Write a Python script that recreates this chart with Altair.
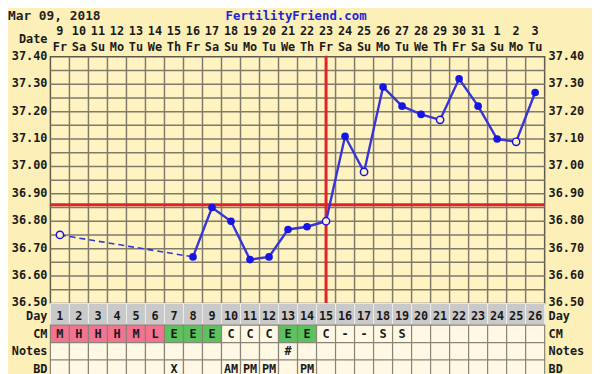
import altair as alt
import pandas as pd

# ---------------- data ----------------
cycle_days = list(range(1, 27))
dates = ["9", "10", "11", "12", "13", "14", "15", "16", "17", "18", "19", "20", "21",
         "22", "23", "24", "25", "26", "27", "28", "29", "30", "31", "1", "2", "3"]
weekdays = ["Fr", "Sa", "Su", "Mo", "Tu", "We", "Th", "Fr", "Sa", "Su", "Mo", "Tu", "We",
            "Th", "Fr", "Sa", "Su", "Mo", "Tu", "We", "Th", "Fr", "Sa", "Su", "Mo", "Tu"]
temps = [36.75, None, None, None, None, None, None, 36.67, 36.85, 36.80, 36.66, 36.67, 36.77,
         36.78, 36.80, 37.11, 36.98, 37.29, 37.22, 37.19, 37.17, 37.32, 37.22, 37.10, 37.09, 37.27]
open_days = [1, 15, 17, 21, 25]
cm = ["M", "H", "H", "H", "M", "L", "E", "E", "E", "C", "C", "C", "E",
      "E", "C", "-", "-", "S", "S", "", "", "", "", "", "", ""]
notes = ["", "", "", "", "", "", "", "", "", "", "", "", "#",
         "", "", "", "", "", "", "", "", "", "", "", "", ""]
bd = ["", "", "", "", "", "", "X", "", "", "AM", "PM", "PM", "",
      "PM", "", "", "", "", "", "", "", "", "", "", "", ""]
coverline = 36.86
ovulation_day = 15
temp_ticks = [37.40, 37.30, 37.20, 37.10, 37.00, 36.90, 36.80, 36.70, 36.60, 36.50]
row_names_top = ["Day"]
row_names_low = ["CM", "Notes", "BD"]
title_left = "Mar 09, 2018"
title_site = "FertilityFriend.com"
date_caption = "Date"

# ---------------- styling ----------------
W, H = 501, 250
OUTER_BG = "#FCEFB8"
PLOT_BG = "#FFF3C2"
GRID = "#7F7A6A"
RED = "#E3222A"
BLUE_LINE = "#3535D8"
BLUE_PT = "#1515E8"
FONT = "DejaVu Sans Mono"

df = pd.DataFrame({"day": cycle_days, "date": dates, "wd": weekdays, "temp": temps})
df["open"] = df["day"].isin(open_days)

rec = df.dropna(subset=["temp"]).copy()
rec["run"] = (rec["day"].diff() != 1).cumsum()
solid = rec[rec.groupby("run")["day"].transform("count") > 1]

gap_rows = []
prev = None
seg = 0
for _, r in rec.iterrows():
    if prev is not None and r["day"] - prev["day"] > 1:
        gap_rows.append({"day": prev["day"], "temp": prev["temp"], "seg": seg})
        gap_rows.append({"day": r["day"], "temp": r["temp"], "seg": seg})
        seg += 1
    prev = r
gaps = pd.DataFrame(gap_rows)

edges = pd.DataFrame({"edge": [d + 0.5 for d in cycle_days[:-1]]})
hgrid = pd.DataFrame({"g": [round(36.5 + 0.05 * i, 2) for i in range(1, 18)]})
ticks = pd.DataFrame({"t": temp_ticks})

kind = []
for c in cm:
    if c in ("M", "H", "L"):
        kind.append("flow")
    elif c == "E":
        kind.append("egg")
    else:
        kind.append("plain")
low = pd.concat([
    pd.DataFrame({"day": cycle_days, "row": "CM", "txt": cm, "kind": kind}),
    pd.DataFrame({"day": cycle_days, "row": "Notes", "txt": notes, "kind": "plain"}),
    pd.DataFrame({"day": cycle_days, "row": "BD", "txt": bd, "kind": "plain"}),
], ignore_index=True)
low["x1"] = low["day"] - 0.5
low["x2"] = low["day"] + 0.5
toprow = pd.DataFrame({"day": cycle_days, "row": "Day", "txt": [str(d) for d in cycle_days]})
toprow["x1"] = toprow["day"] - 0.5
toprow["x2"] = toprow["day"] + 0.5

xs = alt.Scale(domain=[0.5, 26.5], nice=False, zero=False)
ys = alt.Scale(domain=[36.5, 37.4], nice=False, zero=False)
day_scale = alt.Scale(domain=row_names_top, range=[250, 272], paddingInner=0, paddingOuter=0)
low_scale = alt.Scale(domain=row_names_low, range=[272, 325], paddingInner=0, paddingOuter=0)

X = lambda f: alt.X(f, scale=xs, axis=None)
Y = lambda f: alt.Y(f, scale=ys, axis=None)

vgrid = alt.Chart(edges).mark_rule(color=GRID, strokeWidth=1.5).encode(
    x=X("edge:Q"), y=alt.value(0), y2=alt.value(H))
hgr = alt.Chart(hgrid).mark_rule(color=GRID, strokeWidth=1.5).encode(
    y=Y("g:Q"), x=alt.value(0), x2=alt.value(W))
cover = alt.Chart(pd.DataFrame({"c": [coverline]})).mark_rule(color=RED, strokeWidth=3).encode(
    y=Y("c:Q"), x=alt.value(0), x2=alt.value(W))
ovu = alt.Chart(pd.DataFrame({"o": [ovulation_day]})).mark_rule(color=RED, strokeWidth=3).encode(
    x=X("o:Q"), y=alt.value(-1), y2=alt.value(H))

dashed = alt.Chart(gaps).mark_line(color=BLUE_LINE, strokeWidth=1.6, strokeDash=[6, 4]).encode(
    x=X("day:Q"), y=Y("temp:Q"), detail="seg:N")
line = alt.Chart(solid).mark_line(color=BLUE_LINE, strokeWidth=2.4).encode(
    x=X("day:Q"), y=Y("temp:Q"), detail="run:N")
filled_pts = alt.Chart(rec[~rec["open"]]).mark_point(
    shape="circle", filled=True, color=BLUE_PT, size=60, opacity=1).encode(
    x=X("day:Q"), y=Y("temp:Q"))
open_pts = alt.Chart(rec[rec["open"]]).mark_point(
    shape="circle", filled=True, fill=PLOT_BG, stroke=BLUE_PT, strokeWidth=1.5, size=55,
    opacity=1).encode(x=X("day:Q"), y=Y("temp:Q"))

txt_style = dict(font=FONT, fontWeight="bold", fontSize=12, color="#1a1a1a")

date_txt = alt.Chart(df).mark_text(**txt_style).encode(
    x=X("day:Q"), y=alt.value(-26), text="date:N")
wd_txt = alt.Chart(df).mark_text(**txt_style).encode(
    x=X("day:Q"), y=alt.value(-10), text="wd:N")

lt = alt.Chart(ticks).mark_text(align="right", dy=-1, **txt_style).encode(
    x=alt.value(-3), y=Y("t:Q"), text=alt.Text("t:Q", format=".2f"))
rt = alt.Chart(ticks).mark_text(align="left", dy=-1, **txt_style).encode(
    x=alt.value(505), y=Y("t:Q"), text=alt.Text("t:Q", format=".2f"))

day_cells = alt.Chart(toprow).mark_rect(fill="#C9C9C9", stroke="#ECECEC", strokeWidth=1).encode(
    x=X("x1:Q"), x2="x2:Q", y=alt.Y("row:N", scale=day_scale, axis=None))
day_nums = alt.Chart(toprow).mark_text(dy=1.5, **txt_style).encode(
    x=X("day:Q"), y=alt.Y("row:N", scale=day_scale, axis=None), text="txt:N")

low_cells = alt.Chart(low).mark_rect(stroke="#8A8478", strokeWidth=1.2).encode(
    x=X("x1:Q"), x2="x2:Q", y=alt.Y("row:N", scale=low_scale, axis=None),
    color=alt.Color("kind:N", scale=alt.Scale(domain=["flow", "egg", "plain"],
                                              range=["#F27490", "#5CC25E", "#FFF8E4"]),
                    legend=None))
low_txt = alt.Chart(low).mark_text(**txt_style).encode(
    x=X("day:Q"), y=alt.Y("row:N", scale=low_scale, axis=None), text="txt:N")

row_top_df = pd.DataFrame({"row": row_names_top})
row_low_df = pd.DataFrame({"row": row_names_low})
rl_top_l = alt.Chart(row_top_df).mark_text(align="right", dy=1.5, **txt_style).encode(
    x=alt.value(-3), y=alt.Y("row:N", scale=day_scale, axis=None), text="row:N")
rl_top_r = alt.Chart(row_top_df).mark_text(align="left", dy=1.5, **txt_style).encode(
    x=alt.value(505), y=alt.Y("row:N", scale=day_scale, axis=None), text="row:N")
rl_low_l = alt.Chart(row_low_df).mark_text(align="right", **txt_style).encode(
    x=alt.value(-3), y=alt.Y("row:N", scale=low_scale, axis=None), text="row:N")
rl_low_r = alt.Chart(row_low_df).mark_text(align="left", **txt_style).encode(
    x=alt.value(505), y=alt.Y("row:N", scale=low_scale, axis=None), text="row:N")

heads = pd.DataFrame({"a": [title_left], "b": [title_site], "c": [date_caption]})
t_left = alt.Chart(heads).mark_text(font=FONT, fontWeight="bold", fontSize=13, color="#222",
                                    align="left", baseline="top").encode(
    x=alt.value(-43), y=alt.value(-47), text="a:N")
t_site = alt.Chart(heads).mark_text(font=FONT, fontWeight="bold", fontSize=12.5, color="#2424D6",
                                    align="center", baseline="top").encode(
    x=alt.value(249), y=alt.value(-47), text="b:N")
t_date = alt.Chart(heads).mark_text(align="right", **txt_style).encode(
    x=alt.value(-3), y=alt.value(-18), text="c:N")

chart = alt.layer(
    vgrid, hgr, cover, ovu, dashed, line, filled_pts, open_pts,
    date_txt, wd_txt, lt, rt,
    day_cells, day_nums, low_cells, low_txt,
    rl_top_l, rl_top_r, rl_low_l, rl_low_r,
    t_left, t_site, t_date,
).resolve_scale(y="independent").properties(
    width=W, height=H, background=OUTER_BG,
    padding={"left": 43, "top": 47, "right": 48, "bottom": 69},
    autosize=alt.AutoSizeParams(type="none"),
).configure_view(fill=PLOT_BG, stroke="#5F5A4E", strokeWidth=1.5)

chart.save("out.html", embed_options={"renderer": "svg", "actions": False})
